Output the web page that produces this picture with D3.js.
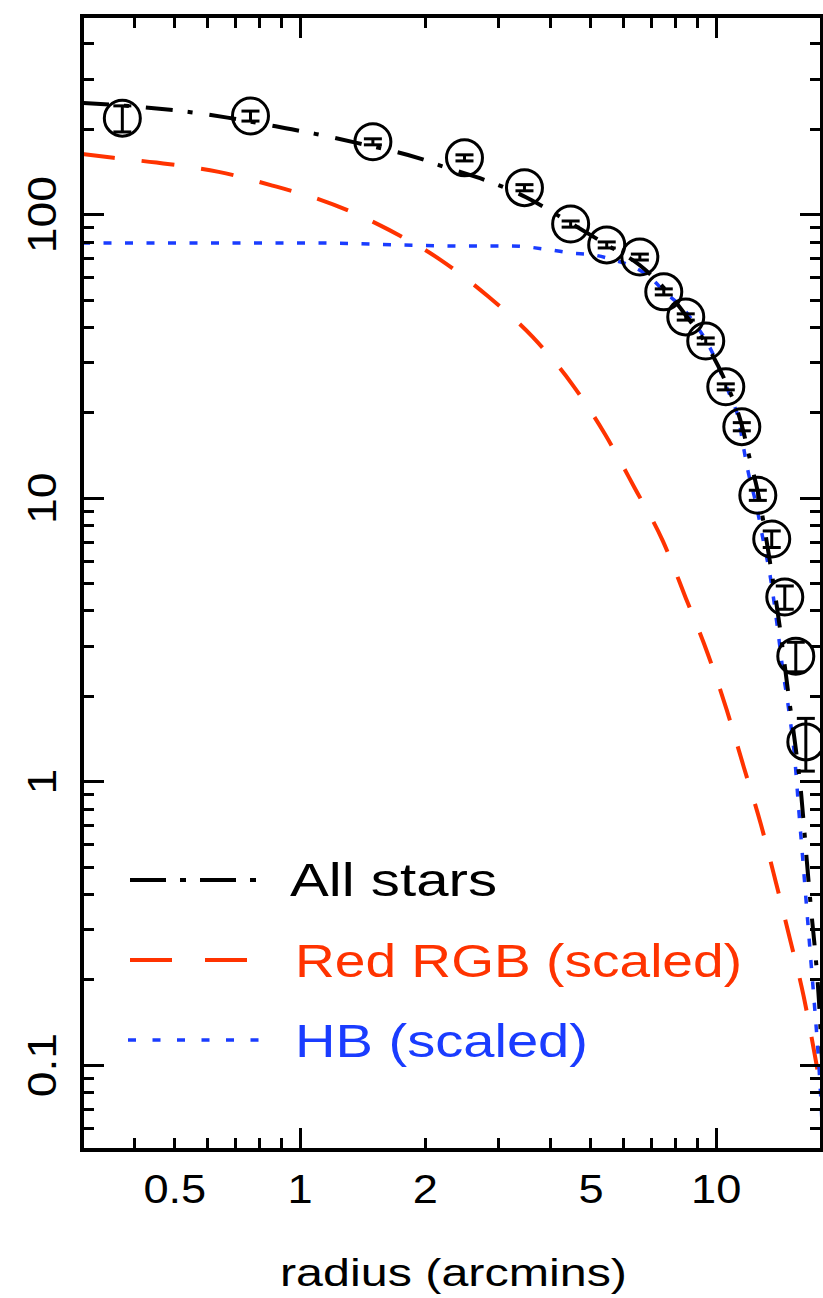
<!DOCTYPE html>
<html><head><meta charset="utf-8">
<script src="https://cdn.jsdelivr.net/npm/d3@7"></script>
<style>body{margin:0;background:#fff}svg{display:block}</style>
</head><body>
<script>
// ---- data ----
const radius     = [0.375, 0.762, 1.50, 2.49, 3.47, 4.48, 5.47, 6.57, 7.50, 8.47, 9.46, 10.57, 11.55, 12.62, 13.63, 14.65, 15.57, 16.46];
const density    = [218, 222, 180, 158, 124, 92.3, 77.9, 70.6, 53.2, 43.4, 35.7, 24.6, 17.8, 10.2, 7.15, 4.46, 2.76, 1.375];
const densityErr = [23, 9, 4.4, 3.9, 3.1, 2.3, 1.9, 1.7, 1.3, 1.1, 0.9, 0.6, 0.59, 0.42, 0.48, 0.42, 0.33, 0.29];

const allFitR = [0.30, 0.426, 0.547, 0.671, 0.926, 1.09, 1.38, 1.95, 2.16, 2.99, 3.49, 4.48, 5.47, 6.57, 7.50, 8.47, 9.46, 10.57, 11.55, 12.1, 12.62, 13.48, 14.25, 14.90, 15.57, 16.01, 16.28, 16.74, 17.02, 17.40, 17.69, 17.89, 18.08];
const allFitV = [247, 238, 229, 219, 201, 192, 178, 157, 149, 127, 115, 93, 78, 66, 55, 44, 35, 25.5, 18, 13.5, 10.5, 6.0, 3.5, 2.1, 1.3, 0.93, 0.70, 0.43, 0.33, 0.235, 0.17, 0.125, 0.09];

const rgbFitR = [0.30, 0.357, 0.453, 0.639, 0.880, 1.11, 1.33, 1.64, 2.18, 2.85, 3.63, 4.51, 5.41, 6.39, 7.46, 8.47, 9.57, 10.63, 11.68, 12.83, 13.94, 15.07, 16.28, 17.30, 18.08];
const rgbFitV = [163, 158, 152, 141, 125, 113, 102, 88, 69, 51, 36.9, 25.2, 16.8, 10.8, 7.04, 4.43, 2.81, 1.78, 1.12, 0.706, 0.441, 0.278, 0.173, 0.108, 0.075];

const hbFitR = [0.30, 1.12, 1.75, 2.51, 3.22, 4.01, 4.48, 5.09, 5.69, 6.35, 6.98, 7.58, 8.28, 8.95, 9.52, 10.0, 10.45, 10.93, 11.36, 11.61, 11.94, 12.48, 13.04, 13.56, 14.09, 14.49, 14.98, 15.49, 15.83, 16.19, 16.55, 16.92, 17.30, 17.59, 17.89, 18.08];
const hbFitV = [79.1, 79.1, 77.9, 77.2, 77.2, 74.8, 73.0, 71.8, 68.9, 65.1, 59.6, 52.7, 47.1, 40.7, 35.4, 30.6, 26.0, 22.1, 18.8, 15.6, 12.5, 9.58, 6.92, 5.13, 3.42, 2.47, 1.78, 1.19, 0.791, 0.527, 0.351, 0.234, 0.156, 0.113, 0.075, 0.054];

const xDomain = [0.3, 18];
const yDomain = [0.05, 500];
const xMajor = [1, 10];
const xMinor = [0.4, 0.5, 0.6, 0.7, 0.8, 0.9, 2, 3, 4, 5, 6, 7, 8, 9];
const xLabels = [0.5, 1, 2, 5, 10];
const yMajor = [0.1, 1, 10, 100];
const yMinor = [0.06, 0.07, 0.08, 0.09, 0.2, 0.3, 0.4, 0.5, 0.6, 0.7, 0.8, 0.9, 2, 3, 4, 5, 6, 7, 8, 9, 20, 30, 40, 50, 60, 70, 80, 90, 200, 300, 400];
const yLabels = [0.1, 1, 10, 100];
const legendLabels = ["All stars", "Red RGB (scaled)", "HB (scaled)"];
const xTitle = "radius (arcmins)";

// ---- layout ----
const W = 823, H = 1298;
const L = 82, R = 822, T = 16, B = 1150;
const RED = "#ff3300", BLUE = "#1a3cff";
const FONT = "'Liberation Sans', Arial, sans-serif";

const svg = d3.select("body").append("svg").attr("width", W).attr("height", H);
const x = d3.scaleLog().domain(xDomain).range([L, R]);
const y = d3.scaleLog().domain(yDomain).range([B, T]);

svg.append("defs").append("clipPath").attr("id", "plot")
  .append("rect").attr("x", L).attr("y", T).attr("width", R - L).attr("height", B - T);

const plot = svg.append("g").attr("clip-path", "url(#plot)");
const line = d3.line().x(d => x(d[0])).y(d => y(d[1])).curve(d3.curveMonotoneX);

plot.append("path").datum(d3.zip(rgbFitR, rgbFitV)).attr("d", line)
  .attr("fill", "none").attr("stroke", RED).attr("stroke-width", 4).attr("stroke-dasharray", "33,27");
plot.append("path").datum(d3.zip(hbFitR, hbFitV)).attr("d", line)
  .attr("fill", "none").attr("stroke", BLUE).attr("stroke-width", 3.5).attr("stroke-dasharray", "8,13.5");
plot.append("path").datum(d3.zip(allFitR, allFitV)).attr("d", line)
  .attr("fill", "none").attr("stroke", "#000").attr("stroke-width", 4).attr("stroke-dasharray", "27,15,5,17");

const pts = radius.map((r, i) => ({r, v: density[i], e: densityErr[i]}));
const pg = plot.append("g").attr("stroke", "#000").attr("stroke-width", 3).attr("fill", "none");
pg.selectAll("circle").data(pts).join("circle")
  .attr("cx", d => x(d.r)).attr("cy", d => y(d.v)).attr("r", 18);
pg.selectAll("line.eb").data(pts).join("line").attr("class", "eb")
  .attr("x1", d => x(d.r)).attr("x2", d => x(d.r))
  .attr("y1", d => y(d.v + d.e)).attr("y2", d => y(d.v - d.e));
pg.selectAll("line.cap1").data(pts).join("line").attr("class", "cap1")
  .attr("x1", d => x(d.r) - 9).attr("x2", d => x(d.r) + 9)
  .attr("y1", d => y(d.v + d.e)).attr("y2", d => y(d.v + d.e));
pg.selectAll("line.cap2").data(pts).join("line").attr("class", "cap2")
  .attr("x1", d => x(d.r) - 9).attr("x2", d => x(d.r) + 9)
  .attr("y1", d => y(d.v - d.e)).attr("y2", d => y(d.v - d.e));

// ---- axes ----
function tickAxis(axisFn, scale, vals, size, tx, ty) {
  const g = svg.append("g").attr("transform", `translate(${tx},${ty})`)
    .call(axisFn(scale).tickValues(vals).tickSize(-size).tickFormat(() => ""));
  g.select(".domain").remove();
  g.selectAll(".tick line").attr("stroke", "#000").attr("stroke-width", 3).attr("shape-rendering", "crispEdges");
}
[[xMinor, 12], [xMajor, 22]].forEach(([v, s]) => {
  tickAxis(d3.axisBottom, x, v, s, 0, B);
  tickAxis(d3.axisTop, x, v, s, 0, T);
});
[[yMinor, 12], [yMajor, 22]].forEach(([v, s]) => {
  tickAxis(d3.axisLeft, y, v, s, L, 0);
  tickAxis(d3.axisRight, y, v, s, R, 0);
});

svg.append("rect").attr("x", L).attr("y", T).attr("width", R - L).attr("height", B - T)
  .attr("fill", "none").attr("stroke", "#000").attr("stroke-width", 4.5).attr("shape-rendering", "crispEdges");

const fmt = d => String(d);
const xl = svg.append("g").attr("transform", `translate(0,${B})`)
  .call(d3.axisBottom(x).tickValues(xLabels).tickSize(0).tickPadding(25).tickFormat(fmt));
xl.select(".domain").remove();
xl.selectAll("text").attr("font-size", 40).attr("font-family", FONT).attr("fill", "#000")
  .each(function() { const n = this.getComputedTextLength(); d3.select(this).attr("textLength", n * 1.13).attr("lengthAdjust", "spacingAndGlyphs"); });

const yl = svg.append("g").attr("transform", `translate(${L},0)`)
  .call(d3.axisLeft(y).tickValues(yLabels).tickSize(0).tickFormat(fmt));
yl.select(".domain").remove();
yl.selectAll("text").attr("font-size", 41).attr("font-family", FONT).attr("fill", "#000")
  .attr("x", 0).attr("dy", 0).attr("text-anchor", "middle")
  .attr("transform", `translate(${56 - L},0) rotate(-90)`)
  .each(function() { const n = this.getComputedTextLength(); d3.select(this).attr("textLength", n * 1.13).attr("lengthAdjust", "spacingAndGlyphs"); });

svg.append("text").attr("x", 280).attr("y", 1286).attr("font-size", 38).attr("font-family", FONT)
  .attr("textLength", 347).attr("lengthAdjust", "spacingAndGlyphs").text(xTitle);

// ---- legend ----
const legend = [
  {label: legendLabels[0], color: "#000", dash: "36,14,6,14", w: 4, x1: 130, x2: 262, ly: 880, tx: 290, ty: 896, tl: 207},
  {label: legendLabels[1], color: RED, dash: "42,33", w: 4, x1: 130, x2: 247, ly: 960, tx: 295, ty: 977, tl: 447},
  {label: legendLabels[2], color: BLUE, dash: "8,16.5", w: 3.5, x1: 128, x2: 264, ly: 1040, tx: 295, ty: 1057, tl: 293}
];
const lg = svg.append("g");
lg.selectAll("line").data(legend).join("line")
  .attr("x1", d => d.x1).attr("x2", d => d.x2).attr("y1", d => d.ly).attr("y2", d => d.ly)
  .attr("stroke", d => d.color).attr("stroke-width", d => d.w).attr("stroke-dasharray", d => d.dash);
lg.selectAll("text").data(legend).join("text")
  .attr("x", d => d.tx).attr("y", d => d.ty).attr("fill", d => d.color)
  .attr("font-size", 46).attr("font-family", FONT)
  .attr("textLength", d => d.tl).attr("lengthAdjust", "spacingAndGlyphs")
  .text(d => d.label);
</script>
</body></html>
